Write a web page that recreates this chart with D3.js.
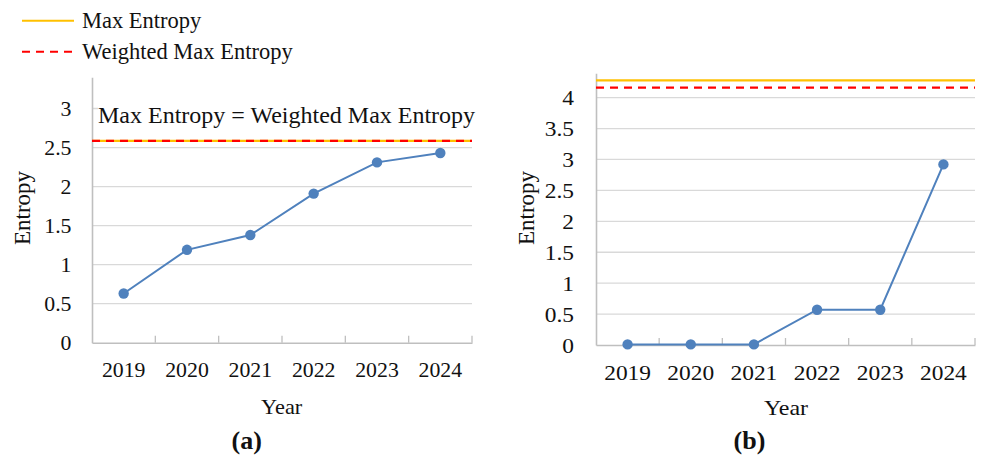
<!DOCTYPE html>
<html>
<head>
<meta charset="utf-8">
<script src="https://cdn.jsdelivr.net/npm/d3@7"></script>
<style>
  html, body { margin: 0; padding: 0; background: #fff; }
  svg { display: block; font-family: "Liberation Serif", "Times New Roman", serif; }
</style>
</head>
<body>
<svg id="chart" width="984" height="457"></svg>
<script>
// Years on the horizontal axis (shared by both panels)
const years = ["2019", "2020", "2021", "2022", "2023", "2024"];

// Panel (a): entropy per year and its reference levels
const entropyA = [0.63, 1.19, 1.38, 1.91, 2.31, 2.43];
const maxEntropyA = 2.585;
const weightedMaxEntropyA = 2.585;
const yTicksA = [0, 0.5, 1, 1.5, 2, 2.5, 3];

// Panel (b): entropy per year and its reference levels
const entropyB = [0.01, 0.01, 0.01, 0.57, 0.57, 2.92];
const maxEntropyB = 4.28;
const weightedMaxEntropyB = 4.16;
const yTicksB = [0, 0.5, 1, 1.5, 2, 2.5, 3, 3.5, 4];

// Legend entries
const legendItems = ["Max Entropy", "Weighted Max Entropy"];

const COLORS = {
  line: "#4f81bd",
  max: "#ffc000",
  weighted: "#ff0000",
  grid: "#d9d9d9",
  axis: "#bfbfbf",
  text: "#111"
};

const svg = d3.select("#chart");

// ---- legend ----
const legend = svg.append("g");
legendItems.forEach((name, i) => {
  const cy = 20.7 + i * 31;
  legend.append("line")
    .attr("x1", 22).attr("x2", 74).attr("y1", cy).attr("y2", cy)
    .attr("stroke", i === 0 ? COLORS.max : COLORS.weighted)
    .attr("stroke-width", 2)
    .attr("stroke-dasharray", i === 0 ? null : "8,6");
  legend.append("text")
    .attr("x", 82).attr("y", cy + 6.8)
    .style("font-size", "22.5px").attr("fill", COLORS.text)
    .text(name);
});

function panel(cfg) {
  const g = svg.append("g");
  const x = d3.scaleBand().domain(years).range([cfg.x0, cfg.x1]);
  const y = d3.scaleLinear().domain([0, cfg.yMax]).range([cfg.yb, cfg.yt]);
  const sx = cfg.stretch;

  // horizontal gridlines
  g.append("g").selectAll("line")
    .data(cfg.ticks.filter(t => t > 0))
    .join("line")
    .attr("x1", cfg.x0).attr("x2", cfg.x1)
    .attr("y1", d => y(d)).attr("y2", d => y(d))
    .attr("stroke", COLORS.grid).attr("stroke-width", 1.3);

  // y axis
  const ya = g.append("g")
    .attr("transform", `translate(${cfg.x0},0)`)
    .call(d3.axisLeft(y).tickValues(cfg.ticks).tickSize(0).tickSizeOuter(0)
      .tickPadding(cfg.yPad).tickFormat(d3.format("")));
  ya.attr("font-family", null).attr("font-size", null);
  ya.select(".domain").attr("stroke", COLORS.axis).attr("stroke-width", 1.6);
  ya.selectAll("text")
    .attr("fill", COLORS.text)
    .style("font-size", cfg.tickSize + "px")
    .attr("x", null)
    .attr("dy", "0.34em")
    .attr("transform", `translate(${-cfg.yPad},0) scale(${sx},1)`);

  // x axis with labels under each category
  const xa = g.append("g")
    .attr("transform", `translate(0,${cfg.yb})`)
    .call(d3.axisBottom(x).tickSize(0).tickSizeOuter(0).tickPadding(cfg.xPad));
  xa.attr("font-family", null).attr("font-size", null);
  xa.select(".domain").attr("stroke", COLORS.axis).attr("stroke-width", 1.6);
  xa.selectAll("text")
    .attr("fill", COLORS.text)
    .style("font-size", cfg.tickSize + "px")
    .attr("y", null).attr("dy", null)
    .attr("transform", `translate(0,${cfg.xBase}) scale(${sx},1)`);

  // category boundary tick marks pointing into the plot
  const bounds = years.map(d => x(d)).concat([cfg.x1]).slice(1);
  g.append("g").selectAll("line")
    .data(bounds)
    .join("line")
    .attr("x1", d => d).attr("x2", d => d)
    .attr("y1", cfg.yb).attr("y2", cfg.yb - 7)
    .attr("stroke", COLORS.axis).attr("stroke-width", 1.3);

  // optional annotation box
  if (cfg.note) {
    g.append("rect")
      .attr("x", cfg.note.x).attr("y", cfg.note.y - 28)
      .attr("width", cfg.note.w).attr("height", 34)
      .attr("fill", "#fff");
    g.append("text")
      .attr("x", cfg.note.x).attr("y", cfg.note.y)
      .style("font-size", "24px").attr("fill", COLORS.text)
      .text(cfg.note.text);
  }

  // reference lines
  g.append("line")
    .attr("x1", cfg.x0).attr("x2", cfg.x1)
    .attr("y1", y(cfg.maxE)).attr("y2", y(cfg.maxE))
    .attr("stroke", COLORS.max).attr("stroke-width", 2.2);
  g.append("line")
    .attr("x1", cfg.x0).attr("x2", cfg.x1)
    .attr("y1", y(cfg.wMaxE)).attr("y2", y(cfg.wMaxE))
    .attr("stroke", COLORS.weighted).attr("stroke-width", 2.2)
    .attr("stroke-dasharray", "8,6");

  // data series
  const pts = years.map((d, i) => ({ year: d, v: cfg.values[i] }));
  const cx = d => x(d.year) + x.bandwidth() / 2;
  g.append("path")
    .datum(pts)
    .attr("fill", "none")
    .attr("stroke", COLORS.line).attr("stroke-width", 2)
    .attr("d", d3.line().x(cx).y(d => y(d.v)));
  g.append("g").selectAll("circle")
    .data(pts)
    .join("circle")
    .attr("cx", cx).attr("cy", d => y(d.v))
    .attr("r", 5.2)
    .attr("fill", COLORS.line);

  // axis titles
  g.append("text")
    .attr("transform", `translate(${cfg.yTitleX},${cfg.yTitleY}) rotate(-90)`)
    .attr("text-anchor", "middle")
    .style("font-size", "23px").attr("fill", COLORS.text)
    .text("Entropy");
  g.append("text")
    .attr("transform", `translate(${cfg.xTitleX},${cfg.xTitleY}) scale(${sx},1)`)
    .attr("text-anchor", "middle")
    .style("font-size", cfg.titleSize + "px").attr("fill", COLORS.text)
    .text("Year");

  // panel caption
  g.append("text")
    .attr("x", cfg.capX).attr("y", 449)
    .attr("text-anchor", "middle")
    .style("font-size", "26px").style("font-weight", "bold")
    .attr("fill", COLORS.text)
    .text(cfg.caption);
}

panel({
  x0: 92, x1: 472, yb: 342.7, yt: 77.3, yMax: 3.4,
  ticks: yTicksA, values: entropyA,
  maxE: maxEntropyA, wMaxE: weightedMaxEntropyA,
  stretch: 1.09, tickSize: 20, yPad: 20.5, xPad: 0, xBase: 34,
  titleSize: 20.5, yTitleX: 30, yTitleY: 208, xTitleX: 281.7, xTitleY: 414,
  capX: 246.7, caption: "(a)",
  note: { x: 98, y: 123.3, w: 378, text: "Max Entropy = Weighted Max Entropy" }
});

panel({
  x0: 596, x1: 975, yb: 345, yt: 73.3, yMax: 4.393,
  ticks: yTicksB, values: entropyB,
  maxE: maxEntropyB, wMaxE: weightedMaxEntropyB,
  stretch: 1.09, tickSize: 21.5, yPad: 22, xPad: 0, xBase: 35,
  titleSize: 22, yTitleX: 534, yTitleY: 208, xTitleX: 786, xTitleY: 415,
  capX: 749.5, caption: "(b)"
});
</script>
</body>
</html>
